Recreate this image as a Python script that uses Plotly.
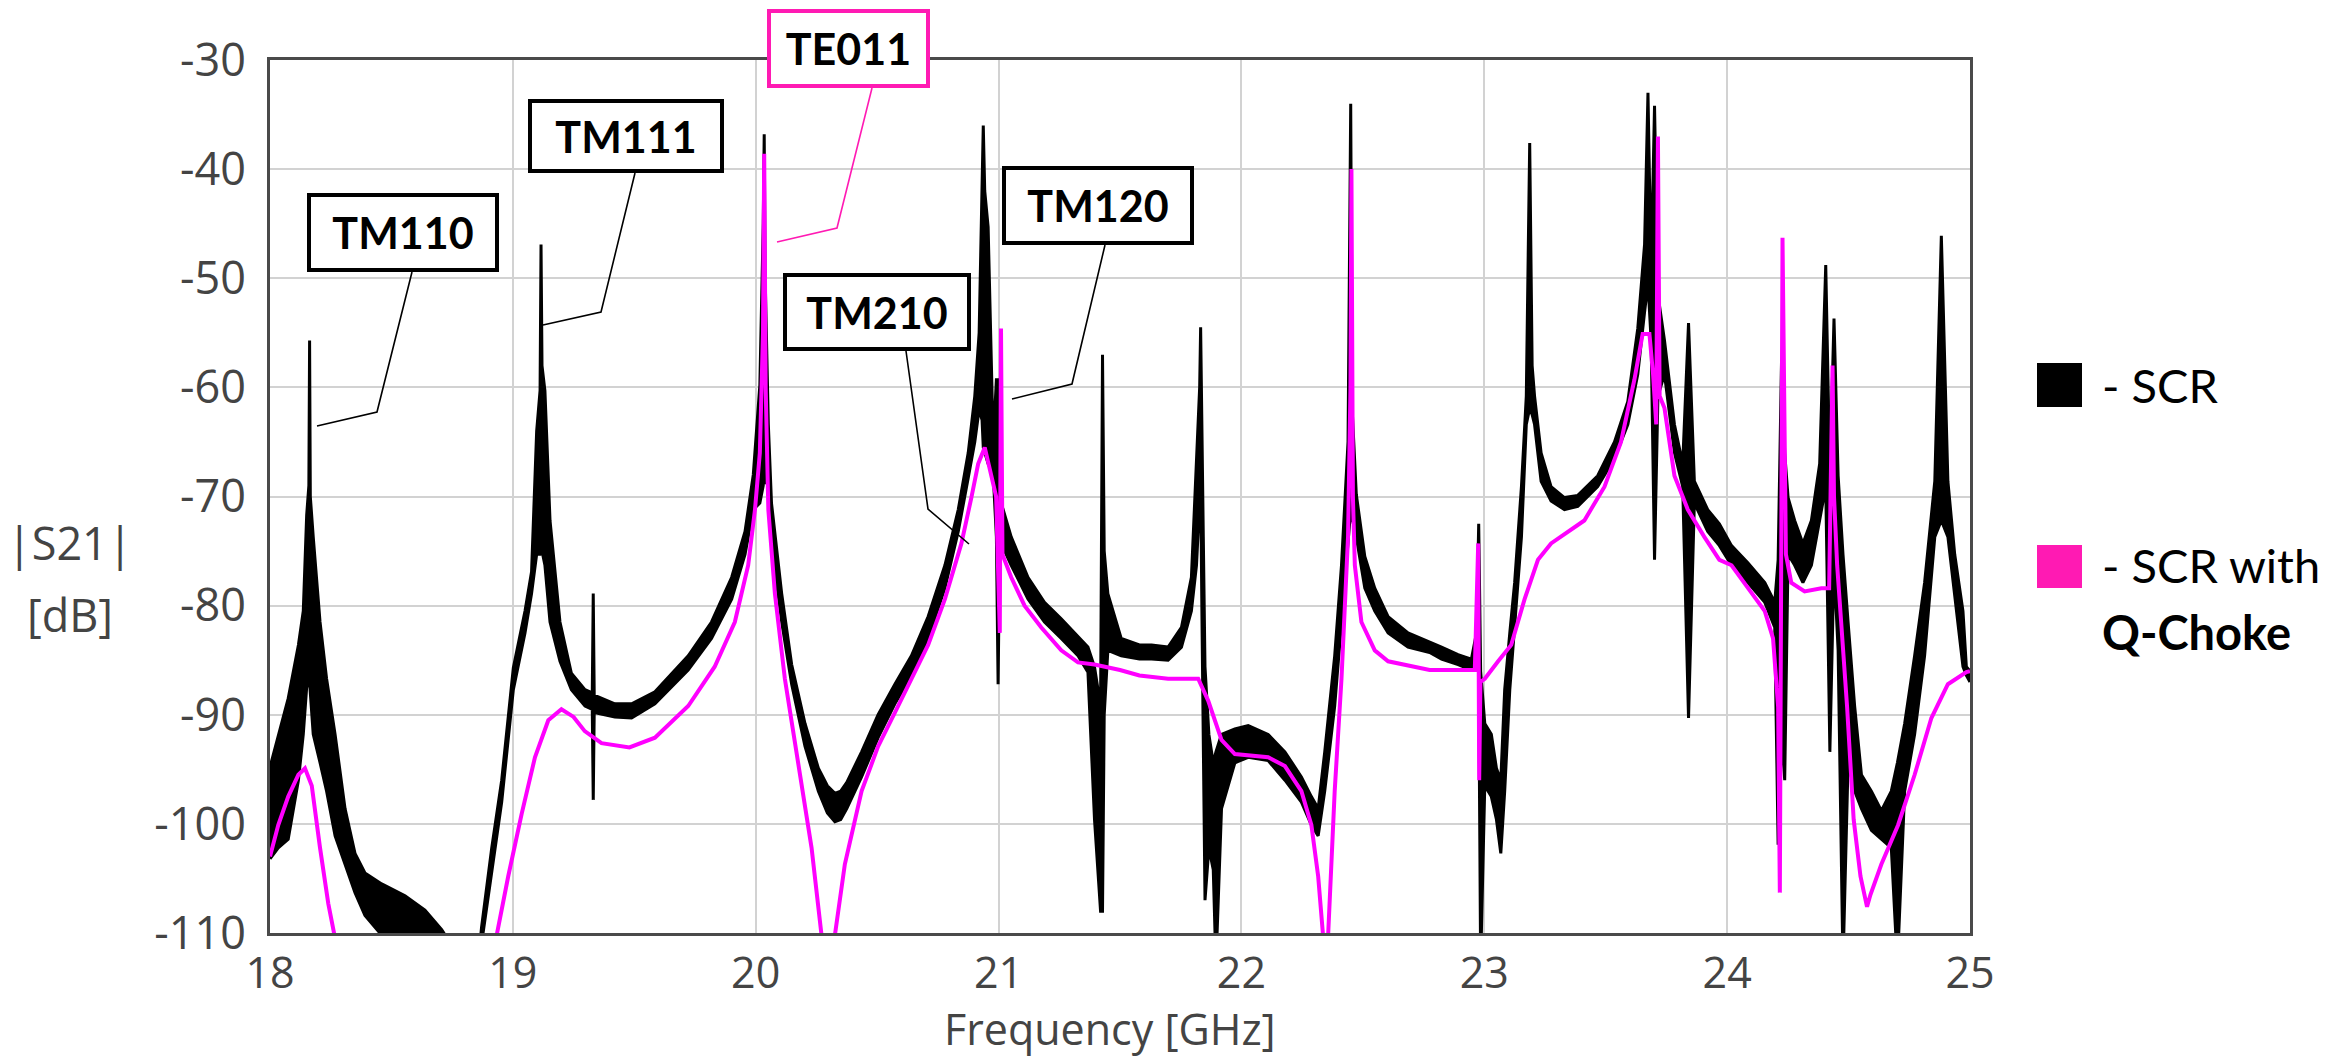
import plotly.graph_objects as go

# ---------------- data ----------------
# SCR response: the trace is drawn as a band between an upper and a lower envelope
scr_freq = [
    18.000, 18.034, 18.075, 18.117, 18.137, 18.151, 18.160, 18.163, 18.166, 18.178,
    18.206, 18.233, 18.268, 18.309, 18.350, 18.391, 18.460, 18.556, 18.638, 18.707,
    18.760, 18.860, 18.871, 18.913, 18.954, 19.002, 19.050, 19.077, 19.098, 19.112,
    19.116, 19.120, 19.132, 19.153, 19.194, 19.241, 19.297, 19.327, 19.331, 19.335,
    19.420, 19.489, 19.585, 19.722, 19.818, 19.901, 19.956, 19.990, 20.017, 20.031,
    20.035, 20.039, 20.052, 20.065, 20.107, 20.148, 20.203, 20.258, 20.295, 20.326,
    20.350, 20.375,
    20.436, 20.504, 20.573, 20.641, 20.710, 20.779, 20.834, 20.875, 20.902, 20.920,
    20.932, 20.937, 20.943, 20.957, 20.978, 20.991, 20.998, 21.005, 21.011, 21.052,
    21.121, 21.189, 21.258, 21.327, 21.368, 21.395, 21.420, 21.428, 21.435, 21.450,
    21.505, 21.580, 21.630, 21.698, 21.753, 21.794, 21.815, 21.828, 21.832, 21.837,
    21.843, 21.850, 21.866, 21.884, 21.895, 21.918, 21.973, 22.028, 22.110, 22.179,
    22.247, 22.288, 22.316, 22.343, 22.384, 22.412, 22.439, 22.450, 22.456, 22.473,
    22.508, 22.549, 22.604, 22.686, 22.775, 22.824, 22.892, 22.947, 22.968, 22.977,
    22.985, 23.002, 23.029, 23.050, 23.068, 23.084, 23.105, 23.125, 23.153, 23.173,
    23.187, 23.197, 23.207, 23.234, 23.275, 23.330, 23.385, 23.467, 23.536, 23.591,
    23.632, 23.660, 23.674, 23.687, 23.701, 23.715, 23.742, 23.783, 23.817, 23.841,
    23.865, 23.920, 23.968, 24.018, 24.086, 24.155, 24.196, 24.210, 24.224, 24.237,
    24.251, 24.278, 24.312, 24.347, 24.381, 24.406, 24.423, 24.440, 24.457, 24.477,
    24.498, 24.525, 24.553, 24.594, 24.635, 24.676, 24.701, 24.731, 24.772, 24.813,
    24.855, 24.882, 24.909, 24.937, 24.971, 24.985, 25.000,
]
scr_upper = [
    -94.8, -92.0, -88.5, -83.6, -80.5, -71.7, -69.0, -55.7, -70.0, -73.7,
    -81.5, -86.7, -91.8, -98.6, -102.7, -104.5, -105.5, -106.6, -107.9, -109.7,
    -111.5, -112.0, -109.5, -102.2, -96.0, -85.7, -80.5, -76.9, -64.0, -60.3,
    -46.9, -58.0, -60.3, -72.2, -81.5, -86.2, -87.7, -88.0, -78.9, -88.2,
    -89.0, -89.0, -87.9, -84.6, -81.5, -77.4, -73.2, -68.0, -59.8, -45.0,
    -36.8, -50.0, -63.4, -70.6, -78.9, -85.4, -90.8, -94.9, -96.5, -97.2,
    -97.0, -96.2,
    -93.4, -90.0, -87.2, -84.6, -81.0, -76.3, -71.2, -66.0, -60.8, -55.0,
    -40.0, -36.0, -42.0, -45.3, -65.0, -59.3, -59.3, -68.0, -70.6, -73.7,
    -77.4, -79.7, -81.2, -82.8, -83.8, -85.6, -89.2, -57.0, -75.0, -78.9,
    -83.0, -83.6, -83.6, -83.8, -82.0, -77.4, -67.0, -60.0, -54.5, -65.0,
    -73.7, -85.6, -91.8, -94.4, -93.4, -91.8, -91.3, -91.0, -91.8, -93.4,
    -95.7, -97.5, -98.6, -93.4, -84.6, -76.3, -65.0, -34.0, -62.0, -69.8,
    -75.5, -78.4, -81.0, -82.5, -83.3, -83.8, -84.5, -84.9, -82.5, -72.5,
    -86.0, -90.8, -91.8, -94.9, -96.0, -87.7, -82.5, -77.9, -69.1, -60.8,
    -37.6, -58.0, -60.8, -66.0, -69.1, -70.1, -69.9, -68.1, -65.0, -61.3,
    -54.6, -46.9, -33.0, -49.5, -34.2, -51.5, -55.7, -63.4, -67.0, -54.1,
    -68.6, -71.2, -72.5, -74.5, -76.1, -77.9, -79.7, -75.8, -57.5, -66.0,
    -70.1, -72.2, -74.3, -72.2, -67.0, -48.8, -68.1, -53.7, -68.1, -75.3,
    -81.5, -89.2, -95.5, -97.0, -98.8, -97.0, -94.4, -90.8, -84.6, -77.9,
    -68.6, -46.1, -68.6, -75.3, -80.5, -85.6, -86.0,
]
scr_lower = [
    -103.2, -102.2, -101.4, -96.0, -91.8, -87.5, -87.0, -87.0, -88.0, -91.8,
    -94.4, -97.0, -101.1, -103.7, -106.3, -108.4, -110.2, -112.0, -112.0, -112.0,
    -113.0, -113.0, -111.0, -104.2, -98.0, -87.7, -82.5, -78.9, -75.3, -75.3,
    -75.0, -75.0, -76.3, -81.5, -85.1, -87.7, -89.2, -89.5, -97.8, -89.8,
    -90.2, -90.3, -89.0, -85.9, -83.0, -79.4, -75.3, -71.2, -70.6, -69.0,
    -68.0, -68.5, -69.1, -74.3, -81.5, -87.2, -92.9, -97.0, -99.0, -99.8,
    -99.6, -98.6,
    -95.7, -92.1, -89.0, -86.4, -83.0, -78.4, -73.2, -68.3, -65.0, -62.0,
    -63.0, -65.5, -66.0, -67.0, -68.0, -73.7, -87.2, -74.0, -74.3, -76.3,
    -79.4, -81.5, -83.0, -84.6, -86.1, -99.6, -108.0, -108.0, -90.0, -84.1,
    -84.6, -84.9, -84.9, -85.0, -83.8, -80.5, -76.3, -70.0, -68.6, -80.0,
    -91.8, -107.0, -102.2, -104.2, -113.0, -98.6, -94.4, -93.9, -94.2, -96.0,
    -98.0, -100.1, -101.1, -97.0, -89.2, -81.5, -74.3, -71.2, -72.0, -73.7,
    -78.4, -80.5, -82.5, -83.8, -84.3, -84.9, -85.4, -85.9, -85.6, -86.1,
    -113.0, -96.5, -97.5, -99.6, -102.7, -97.0, -87.7, -82.0, -73.7, -63.4,
    -61.9, -62.5, -63.4, -68.6, -70.4, -71.2, -70.9, -69.1, -66.5, -63.4,
    -58.8, -53.1, -50.5, -55.7, -75.8, -60.8, -58.8, -66.0, -69.1, -90.3,
    -70.6, -73.2, -74.5, -76.3, -77.9, -79.7, -82.0, -101.9, -91.8, -96.0,
    -75.3, -76.3, -77.9, -76.3, -72.2, -69.1, -93.4, -76.3, -84.1, -113.0,
    -94.4, -97.0, -98.6, -100.6, -101.4, -102.2, -113.0, -97.0, -91.8, -84.6,
    -73.7, -72.2, -73.7, -78.9, -85.6, -86.4, -87.0,
]

# SCR with Q-Choke
qc_freq = [
    18.000, 18.034, 18.075, 18.117, 18.144, 18.172, 18.206, 18.240, 18.268, 18.290,
    18.900, 18.933, 18.981, 19.036, 19.091, 19.146, 19.200, 19.250, 19.296, 19.365,
    19.480, 19.585, 19.722, 19.831, 19.914, 19.969, 19.997, 20.017, 20.030, 20.035,
    20.041, 20.052, 20.079, 20.120, 20.175, 20.230, 20.271, 20.300, 20.326, 20.367,
    20.436, 20.504, 20.573, 20.641, 20.710, 20.779, 20.847, 20.888, 20.916, 20.943,
    20.971, 20.990, 21.005, 21.010, 21.016, 21.052, 21.107, 21.176, 21.258, 21.327,
    21.395, 21.500, 21.580, 21.630, 21.698, 21.822, 21.863, 21.918, 21.973, 22.110,
    22.179, 22.247, 22.288, 22.316, 22.336, 22.345, 22.357, 22.384, 22.412, 22.439,
    22.449, 22.453, 22.459, 22.467, 22.494, 22.549, 22.604, 22.775, 22.892, 22.961,
    22.975, 22.979, 22.984, 23.002, 23.057, 23.111, 23.166, 23.221, 23.275, 23.330,
    23.412, 23.495, 23.563, 23.618, 23.652, 23.680, 23.695, 23.708, 23.715, 23.722,
    23.742, 23.783, 23.838, 23.906, 23.968, 24.018, 24.086, 24.155, 24.189, 24.210,
    24.217, 24.228, 24.242, 24.264, 24.319, 24.388, 24.420, 24.434, 24.440, 24.453,
    24.494, 24.521, 24.549, 24.576, 24.590, 24.635, 24.704, 24.772, 24.841, 24.909,
    24.985, 25.000,
]
qc_db = [
    -103.0, -100.1, -97.5, -95.5, -94.9, -96.5, -102.2, -107.3, -110.5, -114.0,
    -114.0, -110.2, -104.8, -99.1, -93.9, -90.5, -89.5, -90.2, -91.5, -92.6,
    -93.0, -92.1, -89.2, -85.6, -81.5, -76.3, -71.2, -66.0, -55.0, -38.6,
    -60.0, -71.2, -78.9, -86.7, -94.4, -102.2, -110.2, -115.0, -110.2, -103.7,
    -97.0, -92.9, -89.8, -86.7, -83.6, -79.4, -74.3, -70.1, -67.0, -65.5,
    -68.0, -70.0, -82.5, -54.6, -75.3, -77.4, -80.0, -82.0, -84.1, -85.2,
    -85.4, -85.9, -86.4, -86.5, -86.7, -86.7, -88.7, -92.3, -93.6, -93.9,
    -94.7, -97.0, -100.1, -104.8, -110.2, -115.0, -110.2, -97.0, -86.7, -73.7,
    -60.0, -40.0, -70.0, -76.3, -81.5, -84.1, -85.1, -85.9, -85.9, -85.9,
    -74.3, -96.0, -87.0, -86.7, -85.1, -83.6, -79.4, -75.8, -74.3, -73.5,
    -72.2, -69.1, -65.0, -59.3, -55.1, -55.1, -58.8, -63.4, -37.0, -60.8,
    -61.9, -68.1, -71.2, -73.7, -75.8, -76.3, -78.4, -80.5, -83.0, -89.3,
    -106.3, -46.3, -75.3, -77.9, -78.7, -78.4, -78.4, -58.0, -70.0, -76.3,
    -89.3, -99.6, -104.8, -107.6, -106.5, -103.7, -100.1, -95.5, -90.3, -87.2,
    -86.1, -86.0,
]

x_ticks = [18, 19, 20, 21, 22, 23, 24, 25]
y_ticks = [-30, -40, -50, -60, -70, -80, -90, -100, -110]
y_tick_text = ["-30", "-40", "-50", "-60", "-70", "-80", "-90", "-100", "-110"]

# mode labels: (text, box left, top, right, bottom, leader polyline) in pixels
mode_labels = [
    ("TM110", 307, 193, 499, 272, [(412, 272), (377, 412), (317, 426)]),
    ("TM111", 528, 99, 724, 173, [(635, 173), (601, 312), (543, 325)]),
    ("TE011", 767, 9, 930, 88, [(872, 88), (837, 228), (777, 242)]),
    ("TM120", 1002, 166, 1194, 245, [(1105, 245), (1072, 384), (1012, 399)]),
    ("TM210", 783, 273, 971, 351, [(906, 351), (928, 509), (969, 544)]),
]

# ---------------- layout geometry ----------------
W, H = 2347, 1057
L, R, T, B = 270, 1970, 60, 933

SCR_COLOR = "#000000"
QC_COLOR = "#FF00FF"
QC_KEY = "#FF1AB3"
TICK_FONT = "Open Sans"
NOTE_FONT = "Lato"


def px(x):
    return (x - L) / (R - L)


def py(y):
    return (B - y) / (B - T)


fig = go.Figure()

fig.add_trace(go.Scatter(
    x=scr_freq, y=scr_lower, mode="lines",
    line=dict(color=SCR_COLOR, width=3), showlegend=False, hoverinfo="skip",
))
fig.add_trace(go.Scatter(
    x=scr_freq, y=scr_upper, mode="lines", fill="tonexty", fillcolor=SCR_COLOR,
    line=dict(color=SCR_COLOR, width=3), name="SCR", showlegend=False,
))
fig.add_trace(go.Scatter(
    x=qc_freq, y=qc_db, mode="lines",
    line=dict(color=QC_COLOR, width=4), name="SCR with Q-Choke", showlegend=False,
))

shapes = []
annotations = []

# mode label boxes with leader lines
for text, x0, y0, x1, y1, leader in mode_labels:
    edge = QC_KEY if text == "TE011" else "#000000"
    path = "M " + " L ".join(f"{px(a):.5f},{py(b):.5f}" for a, b in leader)
    shapes.append(dict(type="path", path=path, xref="paper", yref="paper",
                       line=dict(color=edge, width=1.6)))
    bw = 4
    annotations.append(dict(
        text=f"<b>{text}</b>", xref="paper", yref="paper",
        x=px((x0 + x1) / 2), y=py((y0 + y1) / 2), xanchor="center", yanchor="middle",
        width=(x1 - x0) - 2 * bw, height=(y1 - y0) - 2 * bw,
        showarrow=False, bgcolor="white", bordercolor=edge, borderwidth=bw, borderpad=0,
        font=dict(family=NOTE_FONT, size=43, color="#000000"),
    ))

# key on the right
shapes.append(dict(type="rect", xref="paper", yref="paper",
                   x0=px(2037), x1=px(2082), y0=py(407), y1=py(363),
                   fillcolor=SCR_COLOR, line=dict(width=0)))
shapes.append(dict(type="rect", xref="paper", yref="paper",
                   x0=px(2037), x1=px(2082), y0=py(588), y1=py(545),
                   fillcolor=QC_KEY, line=dict(width=0)))
key_font = dict(family=NOTE_FONT, size=47, color="#000000")
annotations.append(dict(text="- SCR", xref="paper", yref="paper", x=px(2100), y=py(385),
                        xanchor="left", yanchor="middle", showarrow=False, font=key_font))
annotations.append(dict(text="- SCR with", xref="paper", yref="paper", x=px(2100), y=py(565),
                        xanchor="left", yanchor="middle", showarrow=False, font=key_font))
annotations.append(dict(text="<b>Q-Choke</b>", xref="paper", yref="paper", x=px(2100), y=py(632),
                        xanchor="left", yanchor="middle", showarrow=False, font=key_font))

# y axis title, written horizontally on two lines
axis_font = dict(family=TICK_FONT, size=45, color="#444444")
annotations.append(dict(text="|S21|", xref="paper", yref="paper", x=px(70), y=py(542),
                        xanchor="center", yanchor="middle", showarrow=False, font=axis_font))
annotations.append(dict(text="[dB]", xref="paper", yref="paper", x=px(70), y=py(614),
                        xanchor="center", yanchor="middle", showarrow=False, font=axis_font))

# x axis title
annotations.append(dict(text="Frequency [GHz]", xref="paper", yref="paper", x=px(1110), y=py(1028),
                        xanchor="center", yanchor="middle", showarrow=False,
                        font=dict(family=TICK_FONT, size=43, color="#444444")))

fig.update_layout(
    width=W, height=H,
    margin=dict(l=L, r=W - R, t=T, b=H - B, autoexpand=False),
    paper_bgcolor="white", plot_bgcolor="white",
    shapes=shapes, annotations=annotations,
    showlegend=False,
    xaxis=dict(
        range=[18, 25], tickvals=x_ticks, ticks="",
        showgrid=True, gridcolor="#d2d2d2", gridwidth=2, zeroline=False,
        showline=True, mirror=True, linecolor="#4a4a4a", linewidth=3,
        tickfont=dict(family=TICK_FONT, size=43, color="#444444"), ticklabelstandoff=0,
        automargin=False,
    ),
    yaxis=dict(
        range=[-110, -30], tickvals=y_ticks, ticktext=y_tick_text, ticks="",
        showgrid=True, gridcolor="#d2d2d2", gridwidth=2, zeroline=False,
        showline=True, mirror=True, linecolor="#4a4a4a", linewidth=3,
        tickfont=axis_font, ticklabelstandoff=12,
        automargin=False,
    ),
)

fig.write_html("out.html")
